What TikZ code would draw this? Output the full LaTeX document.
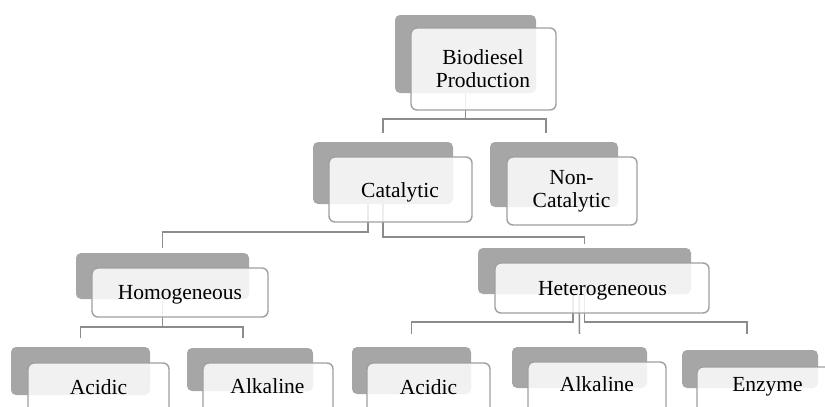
\documentclass[tikz,border=0pt]{standalone}
\usepackage{fontspec}
\setmainfont{Liberation Serif}
\usetikzlibrary{calc,fit}
\definecolor{backgray}{HTML}{A6A6A6}
\definecolor{framegray}{HTML}{A0A0A0}
\definecolor{linegray}{HTML}{8C8C8C}
\tikzset{
  backbox/.style={fill=backgray, draw=none, rounded corners=5pt, inner sep=0pt},
  frontbox/.style={fill=white, fill opacity=0.85, draw=framegray, draw opacity=1, line width=1.4pt, rounded corners=6pt, inner sep=0pt},
  lbl/.style={font=\fontsize{21.5}{23}\selectfont, text=black, inner sep=0pt, align=center},
  conn/.style={draw=linegray, line width=1.5pt},
}
\begin{document}
\begin{tikzpicture}[x=1pt,y=-1pt]
\useasboundingbox (0,0) rectangle (825,407);
\clip (0,0) rectangle (825,407);
% back boxes
\node[backbox, fit={(395,15) (536,93)}] (bio-b) {};
\node[backbox, fit={(313,142) (453,204)}] (cat-b) {};
\node[backbox, fit={(490,142) (618,207)}] (non-b) {};
\node[backbox, fit={(76,253) (249,299)}] (hom-b) {};
\node[backbox, fit={(478,248) (691,294)}] (het-b) {};
\node[backbox, fit={(11,347) (150,395)}] (acl-b) {};
\node[backbox, fit={(187,348) (313,391)}] (akl-b) {};
\node[backbox, fit={(352,347) (471,394)}] (acr-b) {};
\node[backbox, fit={(512,347) (647,388)}] (akr-b) {};
\node[backbox, fit={(682,350) (818,388)}] (enz-b) {};
% connectors
\draw[conn] (bio-b.south) -- ++(0,26) coordinate (j1);
\draw[conn] ($(cat-b.north)+(0,-9)$) |- (j1) -| ($(non-b.north)+(-8,-9)$);
\draw[conn] ($(cat-b.south)+(-15,0)$) |- ($(hom-b.north)+(0,-21)$) -- ($(hom-b.north)+(0,-5)$);
\draw[conn] (cat-b.south) |- ($(het-b.north)+(0,-11)$) -- ($(het-b.north)+(0,-4)$);
\draw[conn] (hom-b.south) -- ++(0,28) coordinate (j2);
\draw[conn] ($(acl-b.north)+(0,-9)$) |- (j2) -| ($(akl-b.north)+(-7,-10)$);
\draw[conn] ($(het-b.south)+(-11.5,0)$) |- ($(acr-b.north)+(0,-25)$) -- ($(acr-b.north)+(0,-13)$);
\draw[conn] ($(het-b.south)+(-5.5,0)$) -- ($(akr-b.north)+(0,-13)$);
\draw[conn] (het-b.south) |- ($(enz-b.north)+(-3,-28)$) -- ($(enz-b.north)+(-3,-16)$);
% front boxes
\node[frontbox, fit={(411,28) (556,110)}] (bio-f) {};
\node[frontbox, fit={(329,157) (472,222)}] (cat-f) {};
\node[frontbox, fit={(507,157) (637,225)}] (non-f) {};
\node[frontbox, fit={(92,268) (268,317)}] (hom-f) {};
\node[frontbox, fit={(495,263) (709,313)}] (het-f) {};
\node[frontbox, fit={(28,363) (169,430)}] (acl-f) {};
\node[frontbox, fit={(203,363) (333,430)}] (akl-f) {};
\node[frontbox, fit={(367,363) (490,430)}] (acr-f) {};
\node[frontbox, fit={(528,362) (666,430)}] (akr-f) {};
\node[frontbox, fit={(697,367) (845,430)}] (enz-f) {};
% labels
\node[lbl] (bio-t) at (483,69) {Biodiesel\\Production};
\node[lbl, anchor=base] (cat-t) at (400,197) {Catalytic};
\node[lbl] (non-t) at (571.5,191.5) {Non-\\Catalytic};
\node[lbl, anchor=base] (hom-t) at (180,299.5) {Homogeneous};
\node[lbl, anchor=base] (het-t) at (602.5,295) {Heterogeneous};
\node[lbl, anchor=base] (acl-t) at (98.5,394) {Acidic};
\node[lbl, anchor=base] (akl-t) at (267.5,393) {Alkaline};
\node[lbl, anchor=base] (acr-t) at (428.5,394) {Acidic};
\node[lbl, anchor=base] (akr-t) at (597,391) {Alkaline};
\node[lbl, anchor=base] (enz-t) at (767.5,391.5) {Enzyme};
\end{tikzpicture}
\end{document}
